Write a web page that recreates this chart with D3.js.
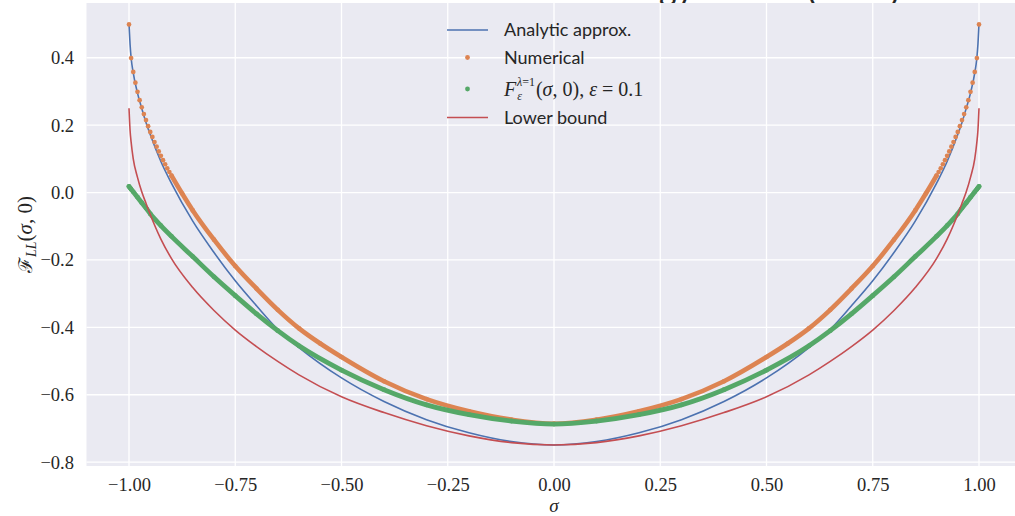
<!DOCTYPE html>
<html>
<head>
<meta charset="utf-8">
<script src="https://cdn.jsdelivr.net/npm/d3@7"></script>
<style>
  html, body { margin: 0; padding: 0; background: #ffffff; }
  svg { display: block; }
</style>
</head>
<body>
<script>
// ---------------- data ----------------
const xTicks = [-1, -0.75, -0.5, -0.25, 0, 0.25, 0.5, 0.75, 1];
const xTickLabels = ["\u22121.00", "\u22120.75", "\u22120.50", "\u22120.25", "0.00", "0.25", "0.50", "0.75", "1.00"];
const yTicks = [-0.8, -0.6, -0.4, -0.2, 0, 0.2, 0.4];
const yTickLabels = ["\u22120.8", "\u22120.6", "\u22120.4", "\u22120.2", "0.0", "0.2", "0.4"];

const seriesNames = ["Analytic approx.", "Numerical", "F_eps", "Lower bound"];

// sigma grid used for the line series
const sigma = [-1, -0.9975, -0.995, -0.99, -0.98, -0.97, -0.96, -0.95, -0.925, -0.9, -0.85, -0.8, -0.75, -0.7, -0.65, -0.6, -0.5, -0.4, -0.3, -0.2, -0.1,
  0,
  0.1, 0.2, 0.3, 0.4, 0.5, 0.6, 0.65, 0.7, 0.75, 0.8, 0.85, 0.9, 0.925, 0.95, 0.96, 0.97, 0.98, 0.99, 0.995, 0.9975, 1];

const analytic = [0.500, 0.440, 0.400, 0.355, 0.295, 0.250, 0.208, 0.172, 0.092, 0.027, -0.085, -0.178, -0.262, -0.336, -0.406, -0.460, -0.550, -0.620, -0.674, -0.713, -0.739,
  -0.749,
  -0.739, -0.713, -0.674, -0.620, -0.550, -0.460, -0.406, -0.336, -0.262, -0.178, -0.085, 0.027, 0.092, 0.172, 0.208, 0.250, 0.295, 0.355, 0.400, 0.440, 0.500];

const fEps = [0.018, 0.014, 0.010, 0.002, -0.014, -0.030, -0.046, -0.063, -0.098, -0.130, -0.190, -0.250, -0.306, -0.360, -0.410, -0.455, -0.527, -0.585, -0.630, -0.659, -0.678,
  -0.687,
  -0.678, -0.659, -0.630, -0.585, -0.527, -0.455, -0.410, -0.360, -0.306, -0.250, -0.190, -0.130, -0.098, -0.063, -0.046, -0.030, -0.014, 0.002, 0.010, 0.014, 0.018];

const lowerBound = [0.250, 0.185, 0.150, 0.100, 0.045, 0.002, -0.032, -0.065, -0.138, -0.196, -0.282, -0.350, -0.408, -0.457, -0.501, -0.541, -0.606, -0.653, -0.692, -0.722, -0.742,
  -0.749,
  -0.742, -0.722, -0.692, -0.653, -0.606, -0.541, -0.501, -0.457, -0.408, -0.350, -0.282, -0.196, -0.138, -0.065, -0.032, 0.002, 0.045, 0.100, 0.150, 0.185, 0.250];

// numerical points (dense near the edges where the dots are distinguishable)
const numSigma = [-1, -0.995, -0.99, -0.985, -0.98, -0.975, -0.97, -0.965, -0.96, -0.955, -0.95, -0.945, -0.94, -0.935, -0.93, -0.925, -0.92, -0.915, -0.91, -0.905, -0.9,
  -0.875, -0.85, -0.8, -0.75, -0.7, -0.65, -0.6, -0.55, -0.5, -0.4, -0.3, -0.2, -0.1,
  0,
  0.1, 0.2, 0.3, 0.4, 0.5, 0.55, 0.6, 0.65, 0.7, 0.75, 0.8, 0.85, 0.875,
  0.9, 0.905, 0.91, 0.915, 0.92, 0.925, 0.93, 0.935, 0.94, 0.945, 0.95, 0.955, 0.96, 0.965, 0.97, 0.975, 0.98, 0.985, 0.99, 0.995, 1];
const numValue = [0.499, 0.399, 0.358, 0.326, 0.299, 0.274, 0.253, 0.233, 0.215, 0.197, 0.180, 0.165, 0.150, 0.136, 0.122, 0.109, 0.096, 0.084, 0.072, 0.061, 0.050,
  -0.003, -0.053, -0.140, -0.218, -0.285, -0.348, -0.403, -0.448, -0.488, -0.560, -0.613, -0.649, -0.674,
  -0.686,
  -0.674, -0.649, -0.613, -0.560, -0.488, -0.448, -0.403, -0.348, -0.285, -0.218, -0.140, -0.053, -0.003,
  0.050, 0.061, 0.072, 0.084, 0.096, 0.109, 0.122, 0.136, 0.150, 0.165, 0.180, 0.197, 0.215, 0.233, 0.253, 0.274, 0.299, 0.326, 0.358, 0.399, 0.499];

// ---------------- drawing ----------------
const W = 1015, H = 516;
const colors = { blue: "#4C72B0", orange: "#DD8452", green: "#55A868", red: "#C44E52" };
const textColor = "#262626";

const x = d3.scaleLinear().domain([-1.1, 1.1]).range([86.5, 1021.5]);
const y = d3.scaleLinear().domain([-0.8115, 0.5625]).range([466, 3]);

const svg = d3.select("body").append("svg").attr("width", W).attr("height", H);

// title (cut off at the top of the image in the reference: only descenders show)
svg.append("text")
  .attr("x", 900).attr("y", 0)
  .attr("text-anchor", "end")
  .attr("font-family", "Lato, sans-serif")
  .attr("font-size", 34)
  .attr("fill", textColor)
  .text("Landau\u2013Lifshitz free energy at h=0 (\u03bb = 1)");

// plot background
const [x0, x1] = x.range();
const [yb, yt] = y.range();
svg.append("rect").attr("x", x0).attr("y", yt).attr("width", x1 - x0).attr("height", yb - yt).attr("fill", "#EAEAF2");

svg.append("clipPath").attr("id", "plotclip").append("rect")
  .attr("x", x0).attr("y", yt).attr("width", x1 - x0).attr("height", yb - yt);

// grid
const grid = svg.append("g").attr("stroke", "#ffffff").attr("stroke-width", 1.3);
grid.selectAll("line.vx").data(xTicks).join("line")
  .attr("x1", d => x(d)).attr("x2", d => x(d)).attr("y1", yt).attr("y2", yb);
grid.selectAll("line.hy").data(yTicks).join("line")
  .attr("y1", d => y(d)).attr("y2", d => y(d)).attr("x1", x0).attr("x2", x1);

// axes (labels only)
const xAxis = d3.axisBottom(x).tickValues(xTicks).tickFormat((d, i) => xTickLabels[i]).tickSize(0).tickPadding(12);
const gx = svg.append("g").attr("transform", `translate(0,${yb})`).call(xAxis);
gx.select(".domain").remove();
gx.selectAll("text").attr("font-family", "'Liberation Serif', serif").attr("font-size", 18.5).attr("fill", textColor);

const yAxis = d3.axisLeft(y).tickValues(yTicks).tickFormat((d, i) => yTickLabels[i]).tickSize(0).tickPadding(12.5);
const gy = svg.append("g").attr("transform", `translate(${x0},0)`).call(yAxis);
gy.select(".domain").remove();
gy.selectAll("text").attr("font-family", "'Liberation Serif', serif").attr("font-size", 18.5).attr("fill", textColor);

// axis titles
svg.append("text")
  .attr("x", (x(-1) + x(1)) / 2).attr("y", 512)
  .attr("text-anchor", "middle")
  .attr("font-family", "'Liberation Serif', serif").attr("font-style", "italic")
  .attr("font-size", 19).attr("fill", textColor)
  .text("\u03c3");

const ylab = svg.append("text")
  .attr("transform", `translate(32,${(yt + yb) / 2}) rotate(-90)`)
  .attr("text-anchor", "middle")
  .attr("font-family", "'Liberation Serif', serif")
  .attr("font-size", 21).attr("fill", textColor);
ylab.append("tspan").attr("font-family", "'DejaVu Serif', serif").attr("font-size", 19).text("\u2131");
ylab.append("tspan").attr("font-style", "italic").attr("font-size", 14).attr("dy", 4).text("LL");
ylab.append("tspan").attr("dy", -4).text("(");
ylab.append("tspan").attr("font-style", "italic").text("\u03c3");
ylab.append("tspan").text(", 0)");

// series
const plot = svg.append("g").attr("clip-path", "url(#plotclip)");
const lineGen = d3.line().x(d => x(d[0])).y(d => y(d[1])).curve(d3.curveMonotoneX);

const blueData = sigma.map((s, i) => [s, analytic[i]]);
const orangeData = numSigma.map((s, i) => [s, numValue[i]]);
const greenData = sigma.map((s, i) => [s, fEps[i]]);
const redData = sigma.map((s, i) => [s, lowerBound[i]]);

plot.append("path").datum(blueData).attr("d", lineGen)
  .attr("fill", "none").attr("stroke", colors.blue).attr("stroke-width", 1.6);

// numerical: individual dots, merged into a band where they overlap
plot.append("path").datum(orangeData.filter(d => Math.abs(d[0]) <= 0.9)).attr("d", lineGen)
  .attr("fill", "none").attr("stroke", colors.orange).attr("stroke-width", 4.6).attr("stroke-linecap", "round");
plot.selectAll("circle.num").data(orangeData).join("circle").attr("class", "num")
  .attr("cx", d => x(d[0])).attr("cy", d => y(d[1])).attr("r", 2.35).attr("fill", colors.orange);

plot.append("path").datum(greenData).attr("d", lineGen)
  .attr("fill", "none").attr("stroke", colors.green).attr("stroke-width", 4.8).attr("stroke-linecap", "round");
plot.selectAll("circle.feps").data(greenData).join("circle").attr("class", "feps")
  .attr("cx", d => x(d[0])).attr("cy", d => y(d[1])).attr("r", 2.4).attr("fill", colors.green);

plot.append("path").datum(redData).attr("d", lineGen)
  .attr("fill", "none").attr("stroke", colors.red).attr("stroke-width", 1.6);

// legend
const leg = svg.append("g");
const legRows = [30, 57.5, 89, 117.5];
const hx0 = 447, hx1 = 488, tx = 504;
leg.append("line").attr("x1", hx0).attr("x2", hx1).attr("y1", legRows[0]).attr("y2", legRows[0]).attr("stroke", colors.blue).attr("stroke-width", 1.6);
leg.append("circle").attr("cx", (hx0 + hx1) / 2).attr("cy", legRows[1]).attr("r", 2.4).attr("fill", colors.orange);
leg.append("circle").attr("cx", (hx0 + hx1) / 2).attr("cy", legRows[2]).attr("r", 2.4).attr("fill", colors.green);
leg.append("line").attr("x1", hx0).attr("x2", hx1).attr("y1", legRows[3]).attr("y2", legRows[3]).attr("stroke", colors.red).attr("stroke-width", 1.6);

const legFont = "Lato, 'Open Sans', sans-serif";
[[0, seriesNames[0]], [1, seriesNames[1]], [3, seriesNames[3]]].forEach(([r, t]) => {
  leg.append("text").attr("x", tx).attr("y", legRows[r]).attr("dy", "0.35em")
    .attr("font-family", legFont).attr("font-size", 18).attr("fill", textColor).text(t);
});

// math label: F_eps^{lambda=1}(sigma, 0), eps = 0.1  (one text element)
const mathFont = "'Liberation Serif', serif";
const r3 = legRows[2];
const mt = leg.append("text").attr("x", tx).attr("y", r3 + 7).attr("font-family", mathFont)
  .attr("font-size", 20).attr("fill", textColor);
mt.append("tspan").attr("font-style", "italic").text("F");
mt.append("tspan").attr("font-style", "italic").attr("font-size", 12).attr("dx", 1).attr("dy", 4).text("\u03b5");
mt.append("tspan").attr("font-style", "italic").attr("font-size", 12).attr("dx", -5).attr("dy", -14).text("\u03bb");
mt.append("tspan").attr("font-size", 12).text("=1");
mt.append("tspan").attr("dy", 10).attr("dx", 1).text("(");
mt.append("tspan").attr("font-style", "italic").text("\u03c3");
mt.append("tspan").text(", 0), ");
mt.append("tspan").attr("font-style", "italic").text("\u03b5");
mt.append("tspan").text(" = 0.1");
</script>
</body>
</html>
